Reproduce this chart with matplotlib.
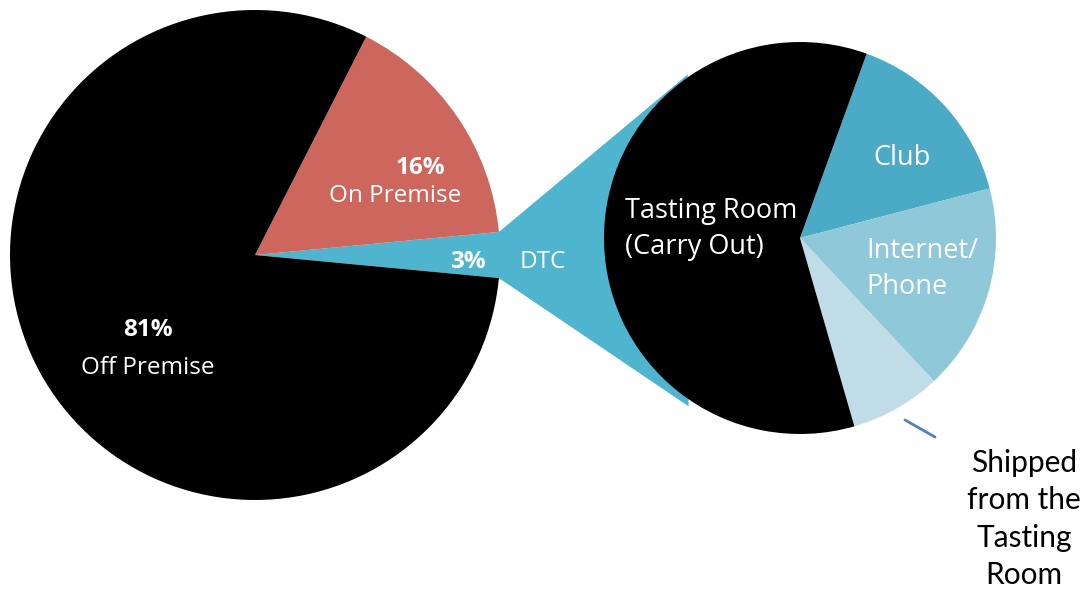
import matplotlib
matplotlib.use("Agg")
import matplotlib.pyplot as plt
import numpy as np
from matplotlib.patches import Polygon

# ---- data ----
main_labels = ["DTC", "On Premise", "Off Premise"]
main_values = [3, 16, 81]
main_colors = ["#4FB5CF", "#CD665C", "#000000"]

dtc_labels = ["Club", "Internet/\nPhone", "Shipped from the Tasting Room", "Tasting Room\n(Carry Out)"]
dtc_values = [15.4, 17.1, 7.5, 60.0]
dtc_colors = ["#4BABC6", "#8FC8D9", "#C0DDE7", "#000000"]

W, H = 1086, 597
fig = plt.figure(figsize=(W / 100, H / 100), dpi=100)
ax = fig.add_axes([0, 0, 1, 1])

def Y(y):  # image y -> axis y
    return H - y

c1 = (255, Y(255)); r1 = 245
c2 = (800, Y(238)); r2 = 196

# main pie: DTC centred on 0 deg
start1 = -main_values[0] / sum(main_values) * 360 / 2
w1, _ = ax.pie(main_values, colors=main_colors, startangle=start1, counterclock=True,
               center=c1, radius=r1, wedgeprops=dict(linewidth=0), frame=True)

# connector from DTC wedge to second pie
dtc_w = w1[0]
t1, t2 = np.deg2rad(dtc_w.theta1), np.deg2rad(dtc_w.theta2)
pA = (c1[0] + r1 * np.cos(t2), c1[1] + r1 * np.sin(t2))
pB = (c1[0] + r1 * np.cos(t1), c1[1] + r1 * np.sin(t1))
a_top, a_bot = np.deg2rad(124.5), np.deg2rad(-123.5)
pC = (c2[0] + r2 * 1.012 * np.cos(a_top), c2[1] + r2 * 1.012 * np.sin(a_top))
pD = (c2[0] + r2 * 1.03 * np.cos(a_bot), c2[1] + r2 * 1.03 * np.sin(a_bot))
ax.add_patch(Polygon([pA, pC, pD, pB], closed=True, facecolor=main_colors[0],
                     edgecolor="none", zorder=0.5))

# second pie
w2, _ = ax.pie(dtc_values, colors=dtc_colors, startangle=70.1, counterclock=False,
               center=c2, radius=r2, wedgeprops=dict(linewidth=0), frame=True)
for w in w2:
    w.set_zorder(2)

ax.set_xlim(0, W)
ax.set_ylim(0, H)
ax.set_aspect("equal")
ax.axis("off")

font = "Open Sans"
fs = 17.5
fs2 = 19.5
# main pie labels
ax.text(420, Y(168), "16%", color="white", fontsize=fs, fontweight="bold", ha="center", va="center", family=font)
ax.text(395, Y(196), main_labels[1], color="white", fontsize=fs, ha="center", va="center", family=font)
ax.text(148, Y(330), "81%", color="white", fontsize=fs, fontweight="bold", ha="center", va="center", family=font)
ax.text(148, Y(368), main_labels[2], color="white", fontsize=fs, ha="center", va="center", family=font)
ax.text(468, Y(262), "3%", color="white", fontsize=fs, fontweight="bold", ha="center", va="center", family=font)
ax.text(543, Y(262), main_labels[0], color="white", fontsize=fs, ha="center", va="center", family=font)

# second pie labels
ax.text(625, Y(229), dtc_labels[3], color="white", fontsize=fs2, ha="left", va="center",
        family=font, linespacing=1.42, zorder=5)
ax.text(902, Y(158), dtc_labels[0], color="white", fontsize=fs2, ha="center", va="center", family=font, zorder=5)
ax.text(866, Y(269), dtc_labels[1], color="white", fontsize=fs2, ha="left", va="center",
        family=font, linespacing=1.42, zorder=5)

# callout for shipped slice
ax.plot([905, 935], [Y(420), Y(437)], color="#4F81BD", lw=2, solid_capstyle="round")
ax.text(1024, Y(519), "Shipped\nfrom the\nTasting\nRoom", color="black", fontsize=21.5,
        ha="center", va="center", family="Lato", linespacing=1.42)

fig.savefig("out.png", dpi=100, facecolor="white")
